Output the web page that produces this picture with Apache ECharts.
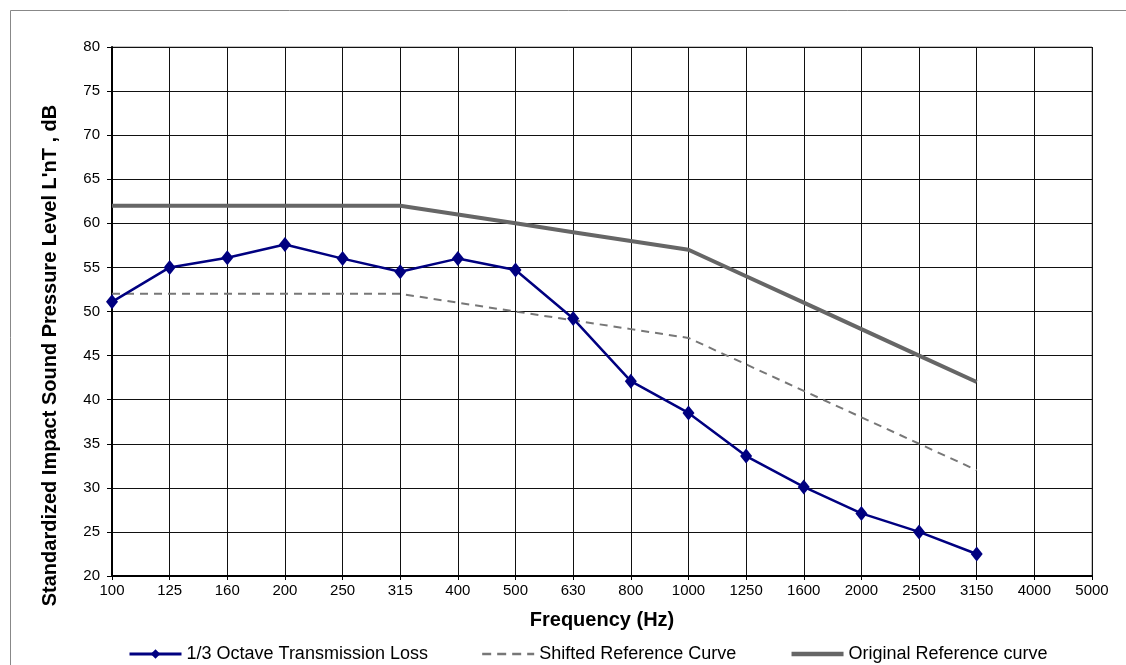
<!DOCTYPE html>
<html><head><meta charset="utf-8">
<script src="https://cdn.jsdelivr.net/npm/echarts@6/dist/echarts.min.js"></script>
<style>html,body{margin:0;padding:0;background:#fff}#c{width:1126px;height:665px}</style>
</head><body><div id="c"></div>
<script>
const frequencies = ['100','125','160','200','250','315','400','500','630','800','1000','1250','1600','2000','2500','3150','4000','5000'];
const transmissionLoss = [51.1,55.0,56.1,57.6,56.0,54.5,56.0,54.7,49.2,42.1,38.5,33.6,30.1,27.1,25.0,22.5];
const shiftedReference = [52,52,52,52,52,52,51,50,49,48,47,44,41,38,35,32];
const originalReference = [62,62,62,62,62,62,61,60,59,58,57,54,51,48,45,42];
const yTicks = {min:20, max:80, interval:5};

const FONT = 'Liberation Sans, Arial, sans-serif';
const chart = echarts.init(document.getElementById('c'));
chart.setOption({
  animation:false,
  backgroundColor:'#fff',
  graphic:[{type:'polyline',shape:{points:[[10.5,665],[10.5,10.5],[1126,10.5]]},style:{stroke:'#888',lineWidth:1,fill:null},silent:true}],
  grid:{left:112,right:34,top:47,bottom:89,show:true,borderColor:'#888',borderWidth:1},
  legend:{
    top:645,left:128,itemWidth:52,itemHeight:12,itemGap:53,padding:0,
    textStyle:{fontFamily:FONT,fontSize:18,color:'#000'},
    data:[
      {name:'1/3 Octave Transmission Loss',lineStyle:{width:3}},
      {name:'Shifted Reference Curve',itemStyle:{opacity:0},lineStyle:{width:2.5,type:[9,6]}},
      {name:'Original Reference curve',itemStyle:{opacity:0},lineStyle:{width:4.5}}
    ]
  },
  xAxis:{
    type:'category',data:frequencies,boundaryGap:false,
    name:'Frequency (Hz)',nameLocation:'middle',nameGap:34,
    nameTextStyle:{fontFamily:FONT,fontSize:20,fontWeight:'bold',color:'#000'},
    axisLine:{lineStyle:{color:'#000',width:2}},
    axisTick:{show:true,inside:false,length:4,alignWithLabel:true,lineStyle:{color:'#000'}},
    axisLabel:{fontFamily:FONT,fontSize:15,color:'#000',interval:0,margin:7},
    splitLine:{show:true,interval:0,lineStyle:{color:'#111',width:1}}
  },
  yAxis:{
    type:'value',min:yTicks.min,max:yTicks.max,interval:yTicks.interval,
    name:"Standardized Impact Sound Pressure Level L'nT , dB",nameLocation:'middle',nameGap:52,
    nameTextStyle:{fontFamily:FONT,fontSize:20,fontWeight:'bold',color:'#000',padding:[0,88,0,0]},
    axisLine:{show:true,lineStyle:{color:'#000',width:2}},
    axisTick:{show:true,length:5,lineStyle:{color:'#000'}},
    axisLabel:{fontFamily:FONT,fontSize:15,color:'#000',margin:12},
    splitLine:{show:true,lineStyle:{color:'#111',width:1}}
  },
  series:[
    {name:'1/3 Octave Transmission Loss',type:'line',data:transmissionLoss,
     symbol:'diamond',symbolSize:[12,15],color:'#000080',
     lineStyle:{color:'#000080',width:2.5},itemStyle:{color:'#000080'},z:5},
    {name:'Shifted Reference Curve',type:'line',data:shiftedReference,showSymbol:false,symbol:'none',
     color:'#777',lineStyle:{color:'#777',width:2,type:[8,6]},z:3},
    {name:'Original Reference curve',type:'line',data:originalReference,showSymbol:false,symbol:'none',
     color:'#666',lineStyle:{color:'#666',width:4},z:4}
  ]
});
</script></body></html>
